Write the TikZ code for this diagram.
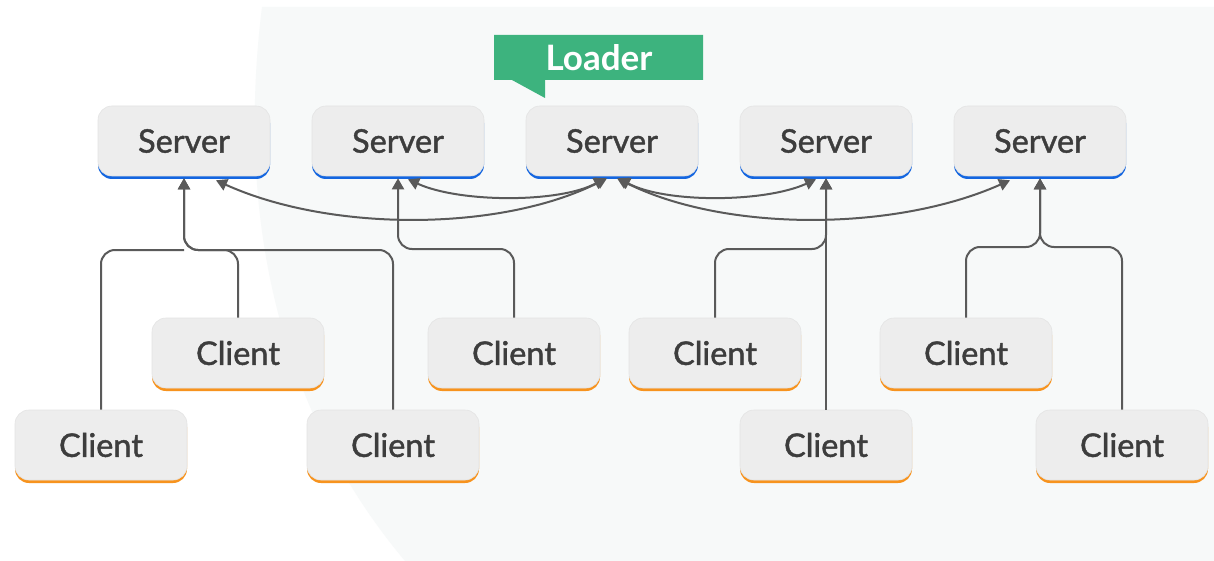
\documentclass[tikz,border=0pt]{standalone}
\usepackage{fontspec}
\setmainfont{Lato}
\newfontfamily\boxfont{Lato}[FakeBold=1.3]
\usetikzlibrary{arrows.meta,calc}
\definecolor{bgshade}{HTML}{F7F9F9}
\definecolor{boxfill}{HTML}{EDEDED}
\definecolor{boxedge}{HTML}{E4E4E4}
\definecolor{srvblue}{HTML}{1466E0}
\definecolor{cliorange}{HTML}{F7931E}
\definecolor{loadgreen}{HTML}{3DB37E}
\definecolor{linegray}{HTML}{5A5A5A}
\definecolor{txtgray}{HTML}{3D3D3D}
\tikzset{
  basebox/.style={fill=boxfill, draw=boxedge, line width=0.6pt, rounded corners=14pt, minimum width=172pt, minimum height=70pt,
    inner sep=0pt, text=txtgray, font=\boxfont\fontsize{32.5}{38}\selectfont},
  serverbox/.style={basebox, preaction={fill=srvblue, draw=none, transform canvas={yshift=-3pt}}},
  clientbox/.style={basebox, preaction={fill=cliorange, draw=none, transform canvas={yshift=-3pt}}},
  conn/.style={draw=linegray, line width=2pt, rounded corners=14pt},
  tip/.style={-{Triangle[length=11pt,width=12pt]}},
  dtip/.style={{Triangle[length=11pt,width=12pt]}-{Triangle[length=11pt,width=12pt]}},
}
\begin{document}
\begin{tikzpicture}[x=1pt,y=-1pt]
\useasboundingbox (0,0) rectangle (1214,561);
\fill[white] (0,0) rectangle (1214,561);
\fill[bgshade] (262,7) .. controls (238,200) and (270,400) .. (405,561) -- (1214,561) -- (1214,7) -- cycle;

% loader callout
\fill[loadgreen] (494,35) -- (703,35) -- (703,80) -- (545,80) -- (545,98) -- (512,80) -- (494,80) -- cycle;
\node[text=white, font=\bfseries\fontsize{35}{40}\selectfont] (loader) at (599,58) {Loader};

% servers
\node[serverbox] (s1) at (184,141) {Server};
\node[serverbox] (s2) at (398,141) {Server};
\node[serverbox] (s3) at (612,141) {Server};
\node[serverbox] (s4) at (826,141) {Server};
\node[serverbox] (s5) at (1040,141) {Server};

% clients
\node[clientbox] (c2) at (238,353) {Client};
\node[clientbox] (c3) at (514,353) {Client};
\node[clientbox] (c5) at (715,353) {Client};
\node[clientbox] (c7) at (966,353) {Client};
\node[clientbox] (c1) at (101,445) {Client};
\node[clientbox] (c4) at (393,445) {Client};
\node[clientbox] (c6) at (826,445) {Client};
\node[clientbox] (c8) at (1122,445) {Client};

% junctions
\coordinate (j1) at (184,250);
\coordinate (j2) at (398,249);
\coordinate (j4) at (826,249);
\coordinate (j5) at (1040,247);

% client trees
\draw[conn] (c1.north) |- (j1);
\draw[conn,tip] (c2.north) |- (j1) -- ([yshift=-2pt]s1.south);
\draw[conn,tip] (c4.north) |- (j1) -- ([yshift=-2pt]s1.south);
\draw[conn,tip] (c3.north) |- (j2) -- ([yshift=-2pt]s2.south);
\draw[conn,tip] (c5.north) |- (j4) -- ([yshift=-2pt]s4.south);
\draw[conn,tip] (c6.north) -- ([yshift=-2pt]s4.south);
\draw[conn,tip] (c7.north) |- (j5) -- ([yshift=-2pt]s5.south);
\draw[conn,tip] (c8.north) |- (j5) -- ([yshift=-2pt]s5.south);

% loader links
\draw[conn,dtip] ([xshift=-5pt,yshift=-2pt]s3.south) .. controls (500,232) and (330,232) .. ([xshift=32pt,yshift=-4pt]s1.south);
\draw[conn,dtip] ([xshift=-7pt,yshift=-2pt]s3.south) .. controls (560,203) and (460,203) .. ([xshift=10pt,yshift=-3pt]s2.south);
\draw[conn,dtip] ([xshift=7pt,yshift=-2pt]s3.south) .. controls (664,203) and (764,203) .. ([xshift=-10pt,yshift=-3pt]s4.south);
\draw[conn,dtip] ([xshift=5pt,yshift=-2pt]s3.south) .. controls (724,232) and (894,232) .. ([xshift=-30pt,yshift=-4pt]s5.south);
\end{tikzpicture}
\end{document}
